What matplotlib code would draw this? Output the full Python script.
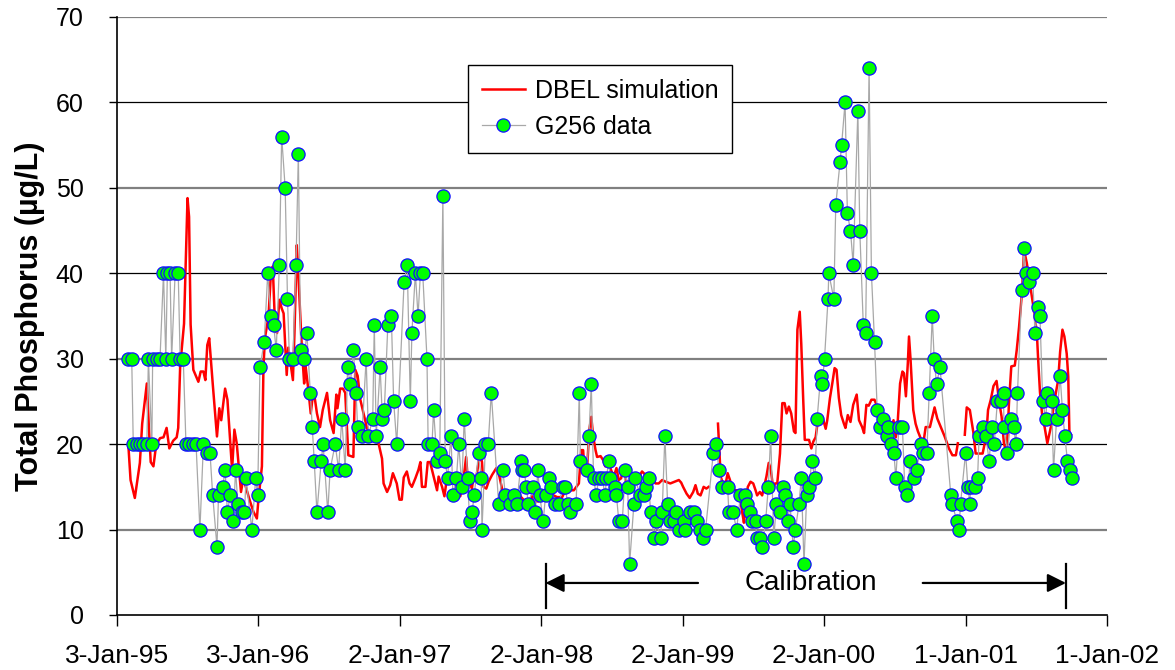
import numpy as np
import matplotlib
matplotlib.use('Agg')
import matplotlib.pyplot as plt

plt.rcParams['font.family'] = ['Liberation Sans', 'DejaVu Sans']

# ---- data: x = days since 3-Jan-1995, y = total phosphorus (ug/L) ----
obs_days = [29, 38, 42, 51, 59, 68, 77, 81, 90, 92, 103, 111, 120, 126, 130, 137, 141, 150, 158, 163,
            171, 178, 187, 196, 204, 214, 223, 232, 240, 247, 258, 262, 273, 279, 285, 292, 300, 306, 312, 322,
            329, 333, 348, 358, 363, 369, 380, 389, 397, 404, 411, 419, 425, 434, 440, 445, 454, 462, 468, 474,
            483, 490, 499, 504, 509, 516, 527, 532, 544, 550, 563, 572, 580, 589, 595, 602, 610, 617, 621, 632,
            643, 649, 660, 664, 669, 679, 685, 690, 699, 708, 714, 722, 741, 749, 757, 761, 770, 777, 783, 789,
            800, 803, 813, 817, 826, 833, 841, 847, 853, 862, 867, 876, 882, 890, 896, 905, 910, 916, 922, 933,
            940, 942, 951, 958, 966, 985, 996, 1002, 1015, 1025, 1032, 1043, 1045, 1051, 1056, 1062, 1074, 1080, 1086, 1091,
            1100, 1106, 1114, 1120, 1131, 1140, 1151, 1157, 1163, 1170, 1185, 1193, 1196, 1213, 1218, 1224, 1230, 1237, 1243, 1252,
            1260, 1263, 1269, 1273, 1284, 1289, 1295, 1304, 1312, 1318, 1323, 1334, 1336, 1351, 1359, 1364, 1372, 1377, 1387, 1392,
            1403, 1407, 1414, 1421, 1428, 1437, 1443, 1450, 1463, 1467, 1478, 1489, 1497, 1504, 1513, 1519, 1539, 1547, 1553, 1562,
            1576, 1579, 1590, 1599, 1609, 1622, 1627, 1633, 1638, 1648, 1651, 1659, 1665, 1674, 1681, 1687, 1695, 1702, 1711, 1720,
            1725, 1731, 1737, 1745, 1751, 1760, 1766, 1773, 1780, 1786, 1793, 1801, 1807, 1816, 1820, 1826, 1835, 1837, 1850, 1855,
            1866, 1870, 1879, 1885, 1893, 1900, 1912, 1917, 1926, 1932, 1941, 1947, 1955, 1962, 1969, 1978, 1986, 1990, 1998, 2005,
            2010, 2018, 2027, 2033, 2040, 2047, 2057, 2064, 2074, 2081, 2090, 2096, 2104, 2109, 2115, 2124, 2152, 2156, 2167, 2173,
            2177, 2190, 2196, 2201, 2203, 2214, 2221, 2225, 2234, 2242, 2251, 2257, 2264, 2272, 2281, 2288, 2289, 2298, 2307, 2314,
            2320, 2324, 2335, 2341, 2345, 2354, 2363, 2369, 2377, 2382, 2389, 2397, 2401, 2412, 2417, 2425, 2434, 2440, 2446, 2453,
            2459, 2464]
obs_tp = [30, 30, 20, 20, 20, 20, 20, 30, 20, 30, 30, 30, 40, 30, 40, 40, 30, 40, 40, 30,
          30, 20, 20, 20, 20, 10, 20, 19, 19, 14, 8, 14, 15, 17, 12, 14, 11, 17, 13, 12,
          12, 16, 10, 16, 14, 29, 32, 40, 35, 34, 31, 41, 56, 50, 37, 30, 30, 41, 54, 31,
          30, 33, 26, 22, 18, 12, 18, 20, 12, 17, 20, 17, 23, 17, 29, 27, 31, 26, 22, 21,
          30, 21, 23, 34, 21, 29, 23, 24, 34, 35, 25, 20, 39, 41, 25, 33, 40, 35, 40, 40,
          30, 20, 20, 24, 18, 19, 49, 18, 16, 21, 14, 16, 20, 15, 23, 16, 11, 12, 14, 19,
          16, 10, 20, 20, 26, 13, 17, 14, 13, 14, 13, 18, 17, 17, 15, 13, 15, 12, 17, 14,
          11, 14, 16, 15, 13, 13, 15, 15, 13, 12, 13, 26, 18, 17, 21, 27, 16, 14, 16, 16,
          14, 16, 18, 16, 15, 14, 11, 11, 17, 15, 6, 13, 16, 14, 14, 15, 16, 12, 9, 11,
          9, 12, 21, 13, 11, 11, 12, 10, 11, 10, 12, 12, 11, 10, 9, 10, 19, 20, 17, 15,
          15, 12, 12, 10, 14, 14, 13, 12, 11, 11, 9, 9, 8, 11, 15, 21, 9, 13, 12, 15,
          14, 11, 13, 8, 10, 13, 16, 6, 14, 15, 18, 16, 23, 28, 27, 30, 37, 40, 37, 48,
          53, 55, 60, 47, 45, 41, 59, 45, 34, 33, 64, 40, 32, 24, 22, 23, 21, 22, 20, 19,
          16, 22, 22, 15, 14, 18, 16, 17, 20, 19, 19, 26, 35, 30, 27, 29, 14, 13, 11, 10,
          13, 19, 15, 13, 15, 15, 16, 21, 22, 21, 18, 22, 20, 25, 25, 26, 22, 19, 23, 22,
          20, 26, 38, 43, 40, 39, 40, 33, 36, 35, 25, 23, 26, 25, 17, 23, 28, 24, 21, 18,
          17, 16]

nan = np.nan
sim_days = [29, 35, 46, 59, 65, 77, 83, 87, 94, 101, 111, 120, 128, 135, 145, 154, 158, 163, 173, 182,
            186, 190, 197, 210, 216, 223, 228, 233, 238, 247, 258, 264, 269, 279, 285, 292, 297, 303, 309, 320,
            326, 342, 352, 361, 365, 374, 378, 382, 391, 397, 402, 408, 413, 419, 425, 430, 434, 438, 442, 454,
            458, 464, 468, 473, 477, 483, 486, 494, 500, 507, 511, 516, 524, 531, 542, 550, 559, 566, 569, 576,
            583, 589, 597, 610, 615, 621, 628, 645, 655, 666, 675, 684, 688, 697, 705, 712, 722, 729, 735, 740,
            748, 755, 761, 770, 778, 783, 787, 796, 802, 808, 815, 826, 830, 839, 845, 852, 858, 873, 879, 886,
            895, 901, 905, 910, 916, 920, 927, 933, 938, 942, 946, 953, 959, 968, 979, 987, 998, 1007, 1019, 1028,
            1041, 1049, 1058, 1071, 1080, 1088, 1101, 1118, 1136, 1149, 1157, 1168, 1179, 1192, 1198, 1203, 1207, 1213, 1219, 1224,
            1229, 1235, 1239, 1248, 1255, 1260, 1266, 1273, 1282, 1289, 1295, 1301, 1306, 1315, 1321, 1329, 1338, 1347, 1355, 1364,
            1372, 1381, 1390, 1398, 1407, 1416, 1428, 1439, 1450, 1456, 1461, 1470, 1478, 1487, 1493, 1499, 1506, 1514, 1521, 1527,
            1540, 1551, 1554, 1558, 1565, 1571, 1576, 1582, 1588, 1596, 1605, 1614, 1618, 1622, 1628, 1635, 1642, 1648, 1652, 1659,
            1665, 1671, 1676, 1682, 1687, 1694, 1698, 1704, 1711, 1717, 1723, 1728, 1734, 1740, 1747, 1751, 1756, 1762, 1766, 1771,
            1775, 1786, 1792, 1797, 1803, 1809, 1816, 1823, 1829, 1833, 1840, 1846, 1852, 1857, 1863, 1869, 1876, 1880, 1886, 1893,
            1900, 1909, 1915, 1923, 1928, 1934, 1940, 1947, 1955, 1960, 1969, 1978, 1984, 1990, 1997, 2004, 2010, 2014, 2021, 2027,
            2031, 2036, 2041, 2044, 2048, 2055, 2061, 2067, 2074, 2081, 2087, 2098, 2110, 2117, 2126, 2136, 2147, 2156, 2165, 2170,
            2179, 2188, 2193, 2201, 2210, 2216, 2225, 2234, 2239, 2245, 2248, 2255, 2262, 2270, 2276, 2283, 2289, 2296, 2302, 2308,
            2317, 2322, 2328, 2334, 2341, 2348, 2356, 2365, 2374, 2377, 2382, 2389, 2394, 2401, 2412, 2417, 2423, 2429, 2434, 2440,
            2445, 2451, 2455, 2458, 2462]
sim_tp = [20.1, 15.8, 13.7, 17.8, 22.4, 27.1, 21.3, 17.9, 17.4, 19.9, 20.7, 20.8, 21.9, 19.5, 20.4, 20.8, 21.9, 29.1, 34.1, 48.8,
          46.6, 34.0, 28.7, 27.3, 28.5, 28.5, 27.5, 31.6, 32.4, 27.1, 20.9, 24.2, 22.8, 26.5, 25.2, 20.5, 17.0, 21.7, 20.1, 14.4,
          16.0, 13.5, 12.1, 11.3, 13.5, 17.4, 29.1, 32.5, 34.9, 39.8, 40.8, 33.7, 33.0, 36.9, 35.9, 35.3, 31.8, 28.1, 31.3, 27.5,
          33.0, 43.3, 39.8, 35.0, 31.3, 27.1, 29.4, 26.3, 23.6, 26.3, 25.2, 23.6, 22.0, 24.0, 26.0, 22.8, 21.3, 25.8, 24.2, 26.5,
          26.5, 26.0, 18.7, 18.5, 28.7, 28.0, 25.2, 21.9, 20.9, 20.5, 20.1, 18.3, 15.4, 14.4, 15.2, 16.6, 15.4, 13.5, 13.5, 16.1,
          16.8, 15.4, 15.0, 16.0, 17.0, 17.9, 15.0, 15.0, 17.9, 17.9, 16.6, 14.6, 16.2, 15.0, 13.9, 16.2, 15.8, 16.0, 14.5, 13.9,
          16.2, 18.5, 16.0, 15.4, 14.8, 16.2, 16.0, 17.8, 18.7, 17.9, 15.0, 14.8, 15.6, 16.4, 17.2, 16.2, 13.9, 13.7, 13.7, 13.9,
          13.9, 13.5, 13.0, 13.9, 13.3, 13.3, 13.7, 14.2, 13.8, 13.8, 14.6, 14.6, 14.6, 15.4, 19.3, 19.3, 16.6, 17.0, 21.7, 23.2,
          20.9, 19.3, 18.5, 18.6, 18.1, 17.4, 17.8, 17.2, 16.2, 17.2, 15.8, 16.0, 17.0, 15.6, 15.4, 16.4, 16.0, 16.2, 16.8, 16.4,
          16.2, 16.0, 15.4, 15.4, 15.8, 15.6, 15.4, 15.6, 15.8, 15.5, 15.0, 14.2, 13.7, 14.4, 15.2, 14.2, 14.0, 15.0, 14.8, 15.0,
          nan, 22.4, 19.7, 16.2, 15.2, 15.4, 16.6, 15.8, 14.7, 14.6, 14.6, 11.9, 10.8, 12.7, 15.0, 15.6, 15.4, 14.6, 14.0, 14.4,
          14.0, 15.2, 16.2, 17.8, 17.1, 14.7, 15.4, 15.4, 18.9, 24.8, 24.8, 23.6, 24.4, 23.6, 21.5, 21.3, 33.4, 35.5, 31.7, 25.2,
          20.5, 20.5, 19.5, 20.3, 20.8, 22.8, 23.0, 22.8, 21.8, 22.8, 25.4, 27.1, 28.9, 28.7, 25.4, 23.4, 22.4, 21.9, 23.4, 22.6,
          24.6, 25.8, 22.8, 22.0, 21.3, 24.6, 24.5, 25.2, 25.2, 24.6, 23.2, 22.8, 22.0, 22.6, 21.3, 22.8, 20.8, 22.0, 27.1, 28.5,
          28.3, 25.6, 29.5, 32.6, 29.9, 24.0, 22.4, 21.5, 20.7, 20.1, 22.0, 22.0, 24.3, 23.0, 22.0, 20.9, 19.5, 18.7, 18.7, 20.1,
          nan, 21.1, 24.3, 24.0, 21.4, 18.9, 18.9, 18.9, 20.0, 22.0, 24.0, 25.2, 26.8, 27.4, 25.2, 23.2, 20.1, 18.9, 24.8, 29.1,
          29.2, 31.0, 33.7, 36.9, 42.7, 41.2, 38.8, 36.1, 33.0, 30.2, 26.1, 22.8, 22.0, 20.1, 22.4, 24.4, 26.0, 27.5, 30.8, 33.4,
          32.6, 30.6, 27.9, 21.3, 21.1]

tick_days = [0, 365, 730, 1095, 1460, 1825, 2190, 2555]
tick_labels = ['3-Jan-95', '3-Jan-96', '2-Jan-97', '2-Jan-98', '2-Jan-99', '2-Jan-00', '1-Jan-01', '1-Jan-02']
y_ticks = [0, 10, 20, 30, 40, 50, 60, 70]
calib_start, calib_end = 1106, 2449

# ---- figure ----
fig = plt.figure(figsize=(11.75, 6.7), dpi=100)
ax = fig.add_axes([117 / 1175, 55 / 670, 990 / 1175, 598 / 670])

for v in y_ticks[1:]:
    if v % 20 == 0:
        ax.axhline(v, color='black', lw=0.9, zorder=1)
    else:
        ax.axhline(v, color='#808080', lw=1.6, zorder=1)

ax.plot(sim_days, sim_tp, color='#FF0000', lw=1.8, zorder=3, label='DBEL simulation')
ax.plot(obs_days, obs_tp, color='#A8A8A8', lw=0.9, marker='o', ms=9.5,
        mfc='#00FF00', mec='#1010FF', mew=0.9, zorder=4, label='G256 data')

ax.set_xlim(0, 2555)
ax.set_ylim(0, 70)
ax.set_xticks(tick_days)
ax.set_xticklabels(tick_labels)
ax.set_yticks(y_ticks)
ax.tick_params(axis='x', labelsize=19, length=8, width=1, pad=13, direction='out')
ax.tick_params(axis='y', labelsize=18, length=6, width=1, pad=18, direction='out')
for s in ['top', 'right']:
    ax.spines[s].set_visible(False)
for s in ['left', 'bottom']:
    ax.spines[s].set_linewidth(1.2)

ax.set_ylabel('Total Phosphorus (µg/L)', fontsize=22, fontweight='bold', labelpad=8)

leg = ax.legend(loc='upper left', bbox_to_anchor=(0.355, 0.92), fontsize=18,
                frameon=True, fancybox=False, edgecolor='black', framealpha=1,
                handlelength=1.7, labelspacing=0.5, borderpad=0.55, handletextpad=0.4,
                borderaxespad=0)
leg.get_frame().set_linewidth(1.0)

# calibration period annotation
y_arrow = 3.75
mid = (calib_start + calib_end) / 2 + 12
gap = 290
for xb in (calib_start, calib_end):
    ax.plot([xb, xb], [0.8, 6.0], color='black', lw=1.6, zorder=5)
ax.annotate('', xy=(calib_start, y_arrow), xytext=(mid - gap, y_arrow),
            arrowprops=dict(arrowstyle='-|>', color='black', lw=1.6, mutation_scale=28,
                            shrinkA=0, shrinkB=0), zorder=5)
ax.annotate('', xy=(calib_end, y_arrow), xytext=(mid + gap, y_arrow),
            arrowprops=dict(arrowstyle='-|>', color='black', lw=1.6, mutation_scale=28,
                            shrinkA=0, shrinkB=0), zorder=5)
ax.text(mid, y_arrow, 'Calibration', ha='center', va='center', fontsize=20, zorder=5)

fig.savefig('out.png', dpi=100)
